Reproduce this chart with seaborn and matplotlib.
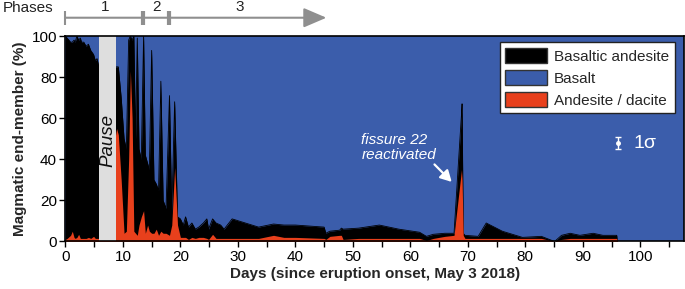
import pandas as pd
import seaborn as sns
import matplotlib
matplotlib.use('Agg')
import matplotlib.pyplot as plt
from matplotlib.patches import Patch
from matplotlib.ticker import MultipleLocator

# days since eruption onset, and the share (%) of each magmatic end-member
days = [0.0, 0.3, 0.9, 1.2, 1.5, 1.7, 2.0, 2.3, 2.6, 2.8, 3.2, 3.6, 4.0, 4.4, 4.9, 5.2, 5.5, 5.9,
        8.9, 9.2, 9.7, 10.2, 10.6, 11.0, 11.3, 11.6, 11.9, 12.2, 12.5, 12.8, 13.2, 13.6, 13.9,
        14.3, 14.6, 15.0, 15.4, 15.8, 16.2, 16.6, 17.0, 17.5, 18.1, 18.5, 19.0, 19.5,
        20.0, 20.5, 20.9, 21.4, 22.0, 22.6, 23.2, 24.0, 24.6, 24.9, 25.6, 26.2, 27.0, 27.6,
        29.0, 33.6, 36.2, 38.0, 40.0, 45.0, 45.3, 46.0, 47.7, 48.0, 48.3, 51.0, 54.6, 58.0,
        61.6, 62.8, 64.0, 66.0, 67.6, 68.9, 69.0, 69.2, 69.5, 71.8, 73.2, 76.0, 79.5, 82.8,
        85.1, 86.3, 87.8, 89.5, 91.8, 93.5, 95.9, 96.0]
andesite_dacite = [1, 1.5, 3, 5, 2, 1.5, 2, 3.5, 1.5, 1.5, 1.5, 1.5, 2, 1.5, 2.5, 1.5, 1.5, 1.5,
                   55, 52, 30, 4, 5, 40, 83, 60, 5, 4, 3, 8, 12, 15, 4,
                   8, 5, 4, 4, 6, 3, 5, 4, 4, 3, 8, 36, 8,
                   2, 2, 2, 1, 2, 1.5, 2, 2, 1.5, 1, 3.5, 1.5, 1.5, 1.5,
                   1.5, 1.5, 3, 2, 2, 1.5, 1, 2.5, 3, 3, 1, 1.5, 1.5, 1.5,
                   1.5, 0.5, 1.5, 2.5, 3, 35, 30, 3, 1.5, 1.5, 1.5, 1.5, 1.5, 1.5,
                   0, 1, 1.5, 1.5, 1.5, 1.5, 1.5, 0]
basaltic_andesite = [99, 97.5, 94, 92, 96, 95.5, 98, 94.5, 97.5, 95.5, 95.5, 93.5, 94, 91.5, 88.5, 86.5, 87.5, 82.5,
                     30, 33, 40, 46, 40, 58, 17, 38, 95, 46, 96, 37, 28, 85, 38,
                     30, 30, 89, 26, 22, 22, 73, 16, 12, 68, 6, 32, 4,
                     9, 6, 10, 6, 7, 4.5, 5, 7, 9.5, 5, 7.5, 7.5, 6.5, 4.5,
                     9.5, 5.5, 5.5, 6, 6, 5.5, 3, 2.5, 2.5, 3.5, 5, 5, 6.5, 4.5,
                     3, 2, 2, 1.5, 1, 27, 37, 1, 1.5, 1, 7.5, 3.5, 0.5, 1,
                     0, 2, 2.5, 1.5, 2.5, 1.5, 1.5, 0]

pause = [5.9, 8.8]
phase_bounds = [0, 13.5, 18.1]
phase_names = ['1', '2', '3']
phase_mid = [6.9, 15.9, 30.4]
phase_end = 45.4
sigma = 3

col_basalt = '#3b5dab'
col_andesite = '#e8401c'
col_bas_and = 'black'

sns.set_style("ticks")
plt.rcParams['font.family'] = ['Liberation Sans', 'DejaVu Sans']


def main():
	df = pd.DataFrame({'day': days, 'andesite': andesite_dacite, 'bas_and': basaltic_andesite})
	df['evolved'] = df['andesite'] + df['bas_and']
	df['basalt'] = 100 - df['evolved']

	fig = plt.figure(figsize=(6.85, 2.89), dpi=100)
	ax = fig.add_axes([0.0955, 0.1644, 0.903, 0.711])
	ax.set_facecolor(col_basalt)

	ax.fill_between(df['day'], 0, df['evolved'], color=col_bas_and, lw=0, zorder=2)
	sns.lineplot(x='day', y='evolved', data=df, color=col_bas_and, lw=0.6, ax=ax, zorder=2)
	ax.fill_between(df['day'], 0, df['andesite'], color=col_andesite, lw=0, zorder=3)

	# eruption pause
	ax.axvspan(pause[0], pause[1], color='#dedede', lw=0, zorder=4)
	ax.text(sum(pause) / 2, 49, 'Pause', rotation=90, style='italic', fontsize=13.5,
			ha='center', va='center', color='#111111', zorder=5)

	# annotations
	ax.text(51.5, 45.7, 'fissure 22\nreactivated', style='italic', color='white', fontsize=11,
			ha='left', va='center', linespacing=1.1, zorder=6)
	ax.annotate('', xy=(67.2, 29.0), xytext=(64.2, 37.5),
				arrowprops=dict(arrowstyle='-|>,head_length=0.55,head_width=0.3', color='white',
								lw=1.6, mutation_scale=12, shrinkA=0, shrinkB=0), zorder=6)
	ax.errorbar([96.1], [47.8], yerr=sigma, fmt='o', color='white', ms=2.5, capsize=2.5,
				elinewidth=1, capthick=1, zorder=6)
	ax.text(98.9, 47.8, '1\u03c3', color='white', fontsize=14, ha='left', va='center', zorder=6)

	# phases bar above the axes
	trans = ax.get_xaxis_transform()
	yl = 1.089
	ax.annotate('', xy=(phase_end, yl), xytext=(phase_bounds[0], yl), xycoords=trans, textcoords=trans,
				arrowprops=dict(arrowstyle='-|>,head_length=1.4,head_width=0.6', color='#8f8f8f',
								lw=1.5, mutation_scale=10, shrinkA=0, shrinkB=0), annotation_clip=False)
	for i, b in enumerate(phase_bounds):
		ax.plot([b], [yl], marker='|', ms=10, mew=1.5 if i == 0 else 3, color='#8f8f8f',
				transform=trans, clip_on=False)
	for name, xm in zip(phase_names, phase_mid):
		ax.text(xm, 1.14, name, transform=trans, ha='center', va='center', fontsize=11, color='#222222')
	fig.text(3 / 685, 1 - 8 / 289, 'Phases', ha='left', va='center', fontsize=11, color='#222222')

	ax.set_xlim(0, 107.6)
	ax.set_ylim(0, 100)
	ax.xaxis.set_major_locator(MultipleLocator(10))
	ax.xaxis.set_minor_locator(MultipleLocator(5))
	ax.yaxis.set_major_locator(MultipleLocator(20))
	ax.tick_params(axis='both', which='both', direction='out', length=4, width=1, labelsize=11,
				   colors='black', pad=2)
	ax.tick_params(axis='x', which='minor', length=4)
	for s in ax.spines.values():
		s.set_visible(True)
		s.set_color('black')
		s.set_linewidth(1.2)
		s.set_zorder(7)

	ax.set_xlabel('Days (since eruption onset, May 3 2018)', fontsize=11, fontweight='bold', labelpad=2)
	ax.set_ylabel('Magmatic end-member (%)', fontsize=11, fontweight='bold', labelpad=3)

	handles = [Patch(facecolor=col_bas_and, edgecolor='#333333', label='Basaltic andesite'),
			   Patch(facecolor=col_basalt, edgecolor='#333333', label='Basalt'),
			   Patch(facecolor=col_andesite, edgecolor='#333333', label='Andesite / dacite')]
	leg = ax.legend(handles=handles, loc='upper right', bbox_to_anchor=(0.985, 0.97), fontsize=11,
					frameon=True, fancybox=False, framealpha=1, edgecolor='#222222',
					handlelength=2.7, handleheight=1.2, labelspacing=0.4, borderpad=0.35,
					handletextpad=0.5, borderaxespad=0)
	leg.get_frame().set_linewidth(1)
	leg.set_zorder(8)

	plt.savefig('out.png', dpi=100)


if __name__ == '__main__':
	main()
